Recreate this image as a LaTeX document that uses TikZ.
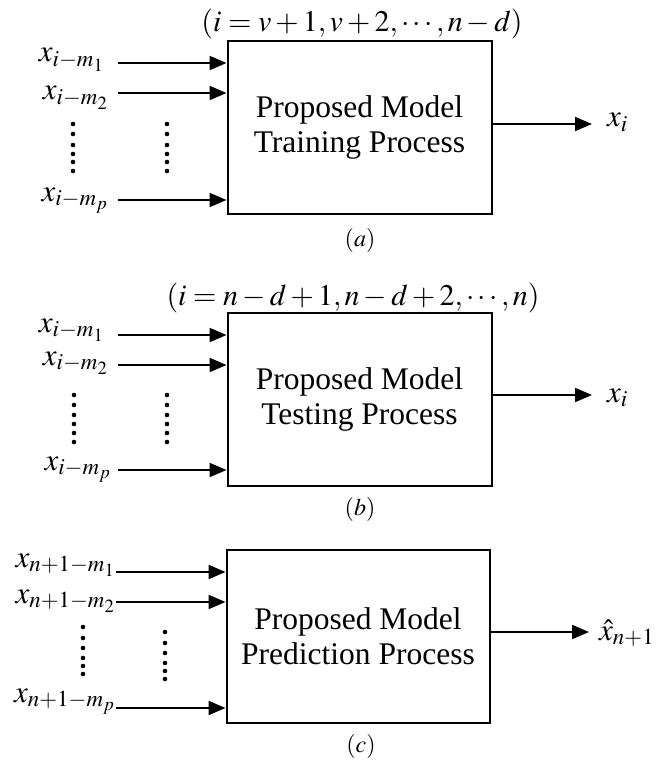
\documentclass[tikz,border=0pt]{standalone}
\usepackage{mathptmx}
\usepackage{fontspec}
\setmainfont{Liberation Serif}
\usetikzlibrary{arrows.meta}
\tikzset{
  procbox/.style={draw, line width=2pt, align=center, inner sep=0pt,
    font=\fontsize{31.5}{35}\selectfont},
  arr/.style={line width=2pt, -{Triangle[length=17pt,width=14pt]}},
  lab/.style={inner sep=0pt, font=\fontsize{31}{35}\selectfont},
  ttl/.style={inner sep=0pt, anchor=base, font=\fontsize{30}{35}\selectfont},
  capt/.style={inner sep=0pt, anchor=base, font=\fontsize{24}{28}\selectfont},
  vdot/.style={fill=black, draw=none}
}
\begin{document}
\begin{tikzpicture}[x=1pt,y=-1pt]
\useasboundingbox (0,0) rectangle (659,762);
% ---------- panel (a) ----------
\node[ttl] (ta) at (362,32) {$(i=v+1,v+2,\cdots,n-d)$};
\node[procbox, minimum width=264pt, minimum height=172pt] (A) at (359.5,127.5) {Proposed Model\\Training Process};
\node[lab, anchor=base east] (a1) at (104,62) {$x_{i-m_1}$};
\node[lab, anchor=base east] (a2) at (108,100) {$x_{i-m_2}$};
\node[lab, anchor=base east] (ap) at (108,201) {$x_{i-m_p}$};
\coordinate (a1s) at (118,63);
\coordinate (a2s) at (118,93);
\coordinate (aps) at (118,200);
\draw[arr] (a1s) -- (a1s -| A.west);
\draw[arr] (a2s) -- (a2s -| A.west);
\draw[arr] (aps) -- (aps -| A.west);
\coordinate (aoe) at (592,124);
\draw[arr] (aoe -| A.east) -- (aoe);
\node[lab, anchor=base west] (ao) at (607,127) {$x_i$};
\foreach \yy in {124,134,145,154,162,171}{
  \fill[vdot] (73,\yy) circle (2.3);
  \fill[vdot] (167,\yy) circle (2.3);
}
\node[capt] (ca) at (360,246) {$(a)$};
% ---------- panel (b) ----------
\node[ttl] (tb) at (353,305) {$(i=n-d+1,n-d+2,\cdots,n)$};
\node[procbox, minimum width=264pt, minimum height=173pt] (B) at (359.5,399) {Proposed Model\\Testing Process};
\node[lab, anchor=base east] (b1) at (104,332) {$x_{i-m_1}$};
\node[lab, anchor=base east] (b2) at (108,365) {$x_{i-m_2}$};
\node[lab, anchor=base east] (bp) at (111,470) {$x_{i-m_p}$};
\coordinate (b1s) at (118,335);
\coordinate (b2s) at (118,365);
\coordinate (bps) at (118,470);
\draw[arr] (b1s) -- (b1s -| B.west);
\draw[arr] (b2s) -- (b2s -| B.west);
\draw[arr] (bps) -- (bps -| B.west);
\coordinate (boe) at (592,395);
\draw[arr] (boe -| B.east) -- (boe);
\node[lab, anchor=base west] (bo) at (607,402) {$x_i$};
\foreach \yy in {395,405,415,424,433,442}{
  \fill[vdot] (74,\yy) circle (2.3);
  \fill[vdot] (167,\yy) circle (2.3);
}
\node[capt] (cb) at (360,515) {$(b)$};
% ---------- panel (c) ----------
\node[procbox, minimum width=263pt, minimum height=173pt] (C) at (358,636) {Proposed Model\\Prediction Process};
\node[lab, anchor=base east] (c1) at (115,567) {$x_{n+1-m_1}$};
\node[lab, anchor=base east] (c2) at (115,603) {$x_{n+1-m_2}$};
\node[lab, anchor=base east] (cp) at (115,702) {$x_{n+1-m_p}$};
\coordinate (c1s) at (116,572);
\coordinate (c2s) at (116,602);
\coordinate (cps) at (116,708);
\draw[arr] (c1s) -- (c1s -| C.west);
\draw[arr] (c2s) -- (c2s -| C.west);
\draw[arr] (cps) -- (cps -| C.west);
\coordinate (coe) at (589,632);
\draw[arr] (coe -| C.east) -- (coe);
\node[lab, anchor=base west] (co) at (599,640) {$\hat{x}_{n+1}$};
\foreach \yy in {627,638,648,658,666,674}{
  \fill[vdot] (83,\yy) circle (2.3);
}
\foreach \yy in {632,643,653,663,671,679}{
  \fill[vdot] (165,\yy) circle (2.3);
}
\node[capt] (cc) at (361,752) {$(c)$};
\end{tikzpicture}
\end{document}
